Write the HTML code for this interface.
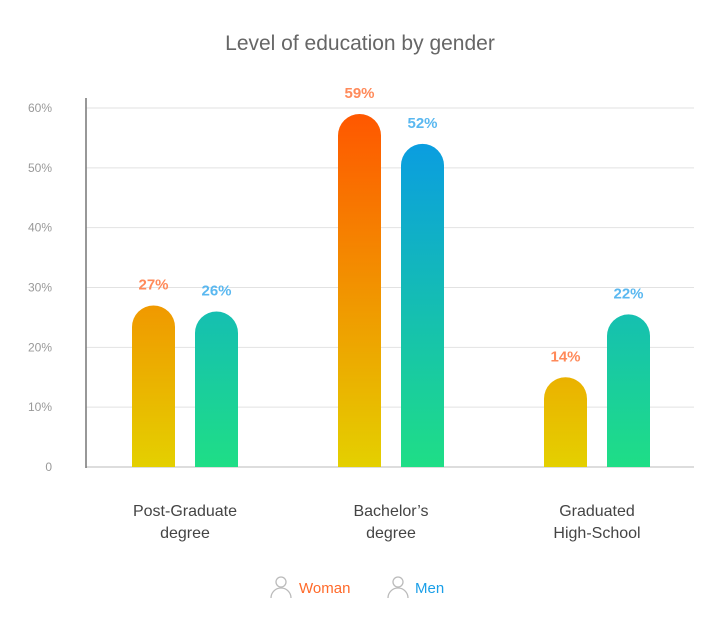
<!DOCTYPE html>
<html><head><meta charset="utf-8"><style>
body{margin:0;background:#fff;font-family:"Liberation Sans",sans-serif}
svg{display:block}
</style></head><body>
<svg width="714" height="629">
<defs>
<linearGradient id="gw" gradientUnits="userSpaceOnUse" x1="0" y1="108" x2="0" y2="467">
<stop offset="0" stop-color="#ff5500"/><stop offset="1" stop-color="#e4d000"/></linearGradient>
<linearGradient id="gm" gradientUnits="userSpaceOnUse" x1="0" y1="108" x2="0" y2="467">
<stop offset="0" stop-color="#0896ea"/><stop offset="1" stop-color="#1fde86"/></linearGradient>
</defs>
<text x="360" y="50" text-anchor="middle" font-size="21" fill="#666">Level of education by gender</text>
<g id="grid"></g><g id="bars"></g><g id="cats"></g>
<line x1="86" y1="98" x2="86" y2="468" stroke="#777" stroke-width="1.5"/>
<g>
<g>
<circle cx="281" cy="582" r="5" fill="none" stroke="#bbb" stroke-width="1.3"/>
<path d="M271 598 a10 10 0 0 1 20 0" fill="none" stroke="#bbb" stroke-width="1.3"/>
<text x="299" y="593" font-size="15" fill="#ff6a2a">Woman</text></g>
<g>
<circle cx="398" cy="582" r="5" fill="none" stroke="#bbb" stroke-width="1.3"/>
<path d="M388 598 a10 10 0 0 1 20 0" fill="none" stroke="#bbb" stroke-width="1.3"/>
<text x="415" y="593" font-size="15" fill="#1a9fe8">Men</text></g>
</g>
</svg>
<script>
const categories=[["Post-Graduate","degree"],["Bachelor’s","degree"],["Graduated","High-School"]];
const womanValues=[27,59,15];
const menValues=[26,54,25.5];
const womanLabels=["27%","59%","14%"];
const menLabels=["26%","52%","22%"];
const yTicks=[0,10,20,30,40,50,60];
const yTickLabels=["0","10%","20%","30%","40%","50%","60%"];
const NS="http://www.w3.org/2000/svg";
const y=v=>467-v*5.983;
const cx=i=>185+i*206;
function mk(t,a,p){const e=document.createElementNS(NS,t);for(const k in a)e.setAttribute(k,a[k]);p.appendChild(e);return e;}
const grid=document.getElementById('grid');
yTicks.forEach((t,i)=>{
 const l=mk('line',{x1:86,x2:694,y1:y(t),y2:y(t),stroke:i==0?'#bbb':'#e2e2e2','stroke-width':1},grid);
 
 
 const tx=mk('text',{x:52,y:y(t)+4,'text-anchor':'end','font-size':12,fill:'#999'},grid);
 tx.textContent=yTickLabels[i];
 
 
});
const bars=document.getElementById('bars');
function bar(x,v,fill,lab,col,name){
 const w=43,r=21.5,top=y(v),b=467;
 const p=mk('path',{d:`M${x} ${b} V${top+r} A${r} ${r} 0 0 1 ${x+w} ${top+r} V${b} Z`,fill:fill},bars);
 
 
 const t=mk('text',{x:x+w/2,y:top-16,'text-anchor':'middle','font-size':15,'font-weight':'bold',fill:col},bars);
 t.textContent=lab;
 
 
}
const cats=document.getElementById('cats');
categories.forEach((c,i)=>{
 bar(cx(i)-53,womanValues[i],'url(#gw)',womanLabels[i],'#ff8a5a','bar-woman-'+i);
 bar(cx(i)+10,menValues[i],'url(#gm)',menLabels[i],'#5ab8f0','bar-men-'+i);
 c.forEach((s,j)=>{
  const t=mk('text',{x:cx(i),y:516+j*22,'text-anchor':'middle','font-size':16,fill:'#444'},cats);
  t.textContent=s;
  
  
 });
});
</script>
</body></html>
